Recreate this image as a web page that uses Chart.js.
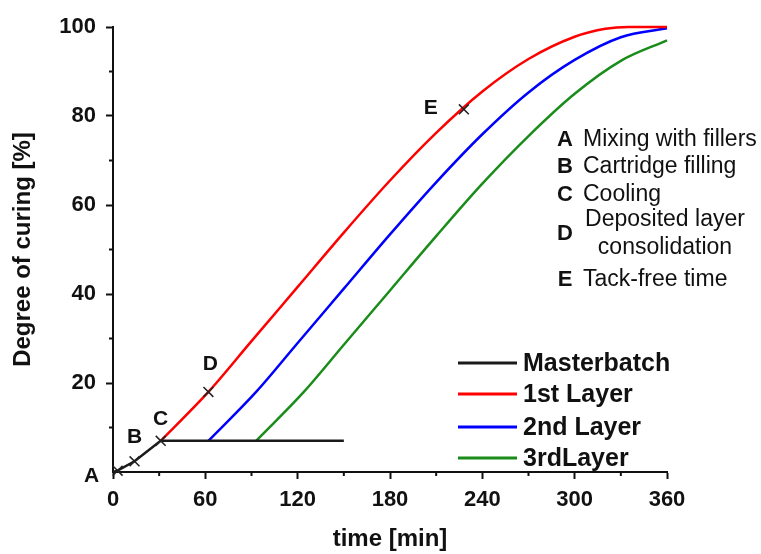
<!DOCTYPE html>
<html>
<head>
<meta charset="utf-8">
<script src="https://cdn.jsdelivr.net/npm/chart.js@4.4.1/dist/chart.umd.min.js"></script>
<style>
  body { margin: 0; background: #fff; }
</style>
</head>
<body>
<canvas id="curing" width="761" height="554"></canvas>
<script>
// time [min] vs degree of curing [%]
var mbTime = [0, 3, 14, 31, 150];
var mbCure = [0, 0.3, 2.4, 7, 7];

var l1Time = [31, 62, 90, 120, 150, 180, 210, 240, 270, 300, 320, 335, 360];
var l1Cure = [7, 18, 29.4, 41.6, 53.8, 65.5, 76.2, 85.5, 92.8, 97.8, 99.6, 100, 100];

var l2Time = [62, 93, 120, 150, 180, 210, 240, 270, 300, 330, 360];
var l2Cure = [7, 18, 29, 41.2, 53.4, 65.1, 75.9, 85.3, 92.6, 97.7, 99.7];

var l3Time = [93, 124, 150, 180, 210, 240, 270, 300, 330, 360];
var l3Cure = [7, 18, 28.6, 40.8, 53, 64.8, 75.5, 85, 92.4, 97];

var seriesNames = ['Masterbatch', '1st Layer', '2nd Layer', '3rdLayer'];
var seriesColors = ['#1a1a1a', '#ff0000', '#0000ff', '#1a8c1a'];

// process steps marked with crosses
var markTime = [3, 14, 31, 62, 228];
var markCure = [0.3, 2.4, 7, 18, 81.5];
var markName = ['A', 'B', 'C', 'D', 'E'];
var stepText = [['Mixing with fillers'], ['Cartridge filling'], ['Cooling'],
                ['Deposited layer', 'consolidation'], ['Tack-free time']];

var xTicks = [0, 60, 120, 180, 240, 300, 360];
var yTicks = [20, 40, 60, 80, 100];

function pts(xs, ys) {
    var out = [];
    for (var i = 0; i < xs.length; i++) out.push({x: xs[i], y: ys[i]});
    return out;
}

var FONT = '"Liberation Sans", Arial, sans-serif';
Chart.defaults.font.family = FONT;
Chart.defaults.color = '#111';

// small ticks between the labelled ones
var minorTicks = {
    id: 'minorTicks',
    afterDraw(chart) {
        var ctx = chart.ctx, xs = chart.scales.x, ys = chart.scales.y;
        var a = chart.chartArea;
        ctx.save();
        ctx.strokeStyle = '#111';
        ctx.lineWidth = 2;
        ctx.beginPath();
        for (var i = 0; i < xTicks.length - 1; i++) {
            var px = xs.getPixelForValue((xTicks[i] + xTicks[i + 1]) / 2);
            ctx.moveTo(px, a.bottom);
            ctx.lineTo(px, a.bottom + 4);
        }
        var yv = [0].concat(yTicks);
        for (var j = 0; j < yv.length - 1; j++) {
            var py = ys.getPixelForValue((yv[j] + yv[j + 1]) / 2);
            ctx.moveTo(a.left, py);
            ctx.lineTo(a.left - 4, py);
        }
        ctx.stroke();
        ctx.restore();
    }
};

// letters next to the crosses, step list and series legend
var overlay = {
    id: 'overlay',
    afterDraw(chart) {
        var ctx = chart.ctx, xs = chart.scales.x, ys = chart.scales.y;
        var off = [[-26, 6], [0, -24], [0, -22], [2, -28], [-33, -1]];
        ctx.save();
        ctx.fillStyle = '#111';
        ctx.textAlign = 'center';
        ctx.textBaseline = 'middle';
        ctx.font = 'bold 21px ' + FONT;
        for (var i = 0; i < markName.length; i++) {
            var px = xs.getPixelForValue(markTime[i]) + off[i][0];
            var py = ys.getPixelForValue(markCure[i]) + off[i][1];
            ctx.fillText(markName[i], px, py);
        }

        // step descriptions
        var rows = [140, 167, 195, 234, 280];
        for (var k = 0; k < markName.length; k++) {
            ctx.font = 'bold 22px ' + FONT;
            ctx.textAlign = 'center';
            ctx.fillText(markName[k], 565, rows[k]);
            ctx.font = '23px ' + FONT;
            var lines = stepText[k];
            if (lines.length === 1) {
                ctx.textAlign = 'left';
                ctx.fillText(lines[0], 583, rows[k]);
            } else {
                ctx.textAlign = 'center';
                ctx.fillText(lines[0], 665, rows[k] - 14);
                ctx.fillText(lines[1], 665, rows[k] + 14);
            }
        }

        // series legend
        var ly = [363, 394, 427, 458];
        ctx.lineWidth = 3;
        ctx.font = 'bold 25px ' + FONT;
        ctx.textAlign = 'left';
        for (var s = 0; s < seriesNames.length; s++) {
            ctx.strokeStyle = seriesColors[s];
            ctx.beginPath();
            ctx.moveTo(458, ly[s]);
            ctx.lineTo(517, ly[s]);
            ctx.stroke();
            ctx.fillStyle = '#111';
            ctx.fillText(seriesNames[s], 523, ly[s] + 1);
        }
        ctx.restore();
    }
};

function curve(i, xs, ys, tension) {
    return {
        label: seriesNames[i],
        data: pts(xs, ys),
        borderColor: seriesColors[i],
        borderWidth: 2.5,
        pointRadius: 0,
        tension: tension,
        cubicInterpolationMode: tension ? 'monotone' : 'default',
        clip: 6,
        order: 1
    };
}

new Chart(document.getElementById('curing'), {
    type: 'line',
    data: {
        datasets: [
            {
                label: 'steps',
                data: pts(markTime, markCure),
                showLine: false,
                pointStyle: 'crossRot',
                pointRadius: 7,
                pointBorderWidth: 1.5,
                pointBorderColor: '#222',
                clip: 10,
                order: 0
            },
            curve(0, mbTime, mbCure, 0),
            curve(1, l1Time, l1Cure, 0.4),
            curve(2, l2Time, l2Cure, 0.4),
            curve(3, l3Time, l3Cure, 0.4)
        ]
    },
    options: {
        responsive: false,
        animation: false,
        events: [],
        layout: { padding: { top: 27, right: 94, left: 0, bottom: 0 } },
        plugins: { legend: { display: false }, tooltip: { enabled: false } },
        scales: {
            x: {
                type: 'linear',
                min: 0, max: 360,
                afterFit: function (s) { s.height = 82; },
                afterBuildTicks: function (s) { s.ticks = xTicks.map(function (v) { return {value: v}; }); },
                grid: { drawOnChartArea: false, tickLength: 7, tickWidth: 2, tickColor: '#111' },
                border: { color: '#111', width: 2 },
                ticks: { padding: 8, font: { size: 22, weight: 'bold' }, color: '#111', maxRotation: 0 },
                title: { display: true, text: 'time [min]', font: { size: 24, weight: 'bold' },
                         color: '#111', padding: { top: 0, bottom: 0 } }
            },
            y: {
                type: 'linear',
                min: 0, max: 100,
                afterFit: function (s) { s.width = 113; },
                afterBuildTicks: function (s) { s.ticks = yTicks.map(function (v) { return {value: v}; }); },
                grid: { drawOnChartArea: false, tickLength: 7, tickWidth: 2, tickColor: '#111' },
                border: { color: '#111', width: 2 },
                ticks: { padding: 10, font: { size: 22, weight: 'bold' }, color: '#111' },
                title: { display: true, text: 'Degree of curing [%]', font: { size: 24, weight: 'bold' },
                         color: '#111', padding: { top: 9, bottom: 0 } }
            }
        }
    },
    plugins: [minorTicks, overlay]
});
</script>
</body>
</html>
